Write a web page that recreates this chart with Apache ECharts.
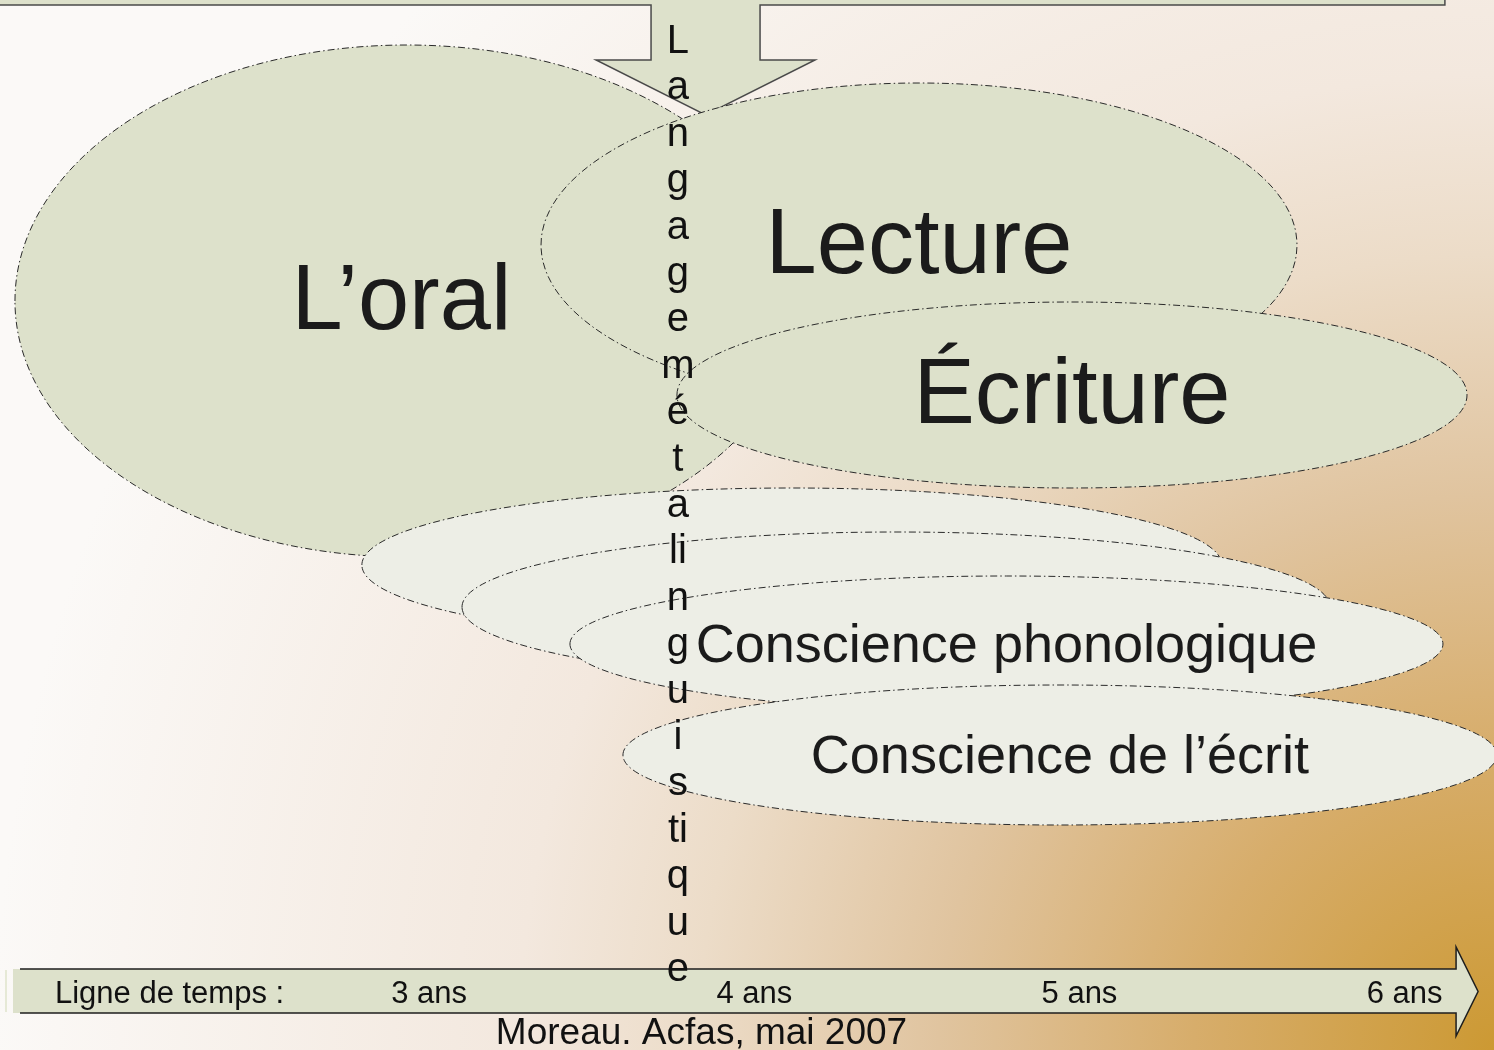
<!DOCTYPE html>
<html>
<head>
<meta charset="utf-8">
<script src="https://cdn.jsdelivr.net/npm/echarts@6/dist/echarts.min.js"></script>
<style>
  html, body { margin: 0; padding: 0; }
  #chart { width: 1494px; height: 1050px; }
</style>
</head>
<body>
<div id="chart"></div>
<script>
// x = age in years, y = row units (top to bottom)
const domains = ['L’oral', 'Lecture', 'Écriture', '', '', 'Conscience phonologique', 'Conscience de l’écrit'];
const domainGroup = ['main', 'main', 'main', 'aware', 'aware', 'aware', 'aware'];
const startAge = [1.726, 3.344, 3.762, 2.793, 3.101, 3.433, 3.596];
const endAge = [4.137, 5.669, 6.192, 5.438, 5.771, 6.118, 6.284];
const rowMid = [3.01, 2.45, 3.95, 5.65, 6.07, 6.44, 7.55];
const rowHalf = [2.56, 1.62, 0.93, 0.77, 0.75, 0.68, 0.70];
const labelAgeShift = [-0.017, 0, 0, 0, 0, 0, 0];

const metaLetters = ['L', 'a', 'n', 'g', 'a', 'g', 'e', 'm', 'é', 't', 'a', 'li', 'n', 'g', 'u', 'i', 's', 'ti', 'q', 'u', 'e'];
const metaAge = 3.765;
const metaRow = 5.06;

const feedAge = 3.85;              // arrow from the top banner
const bannerSpan = [1.68, 6.124];
const feedRows = [0.05, 0.60, 1.15]; // banner bottom, shoulder, tip

const timeSpan = [1.72, 6.226];
const timeRow = 9.91;
const timeLabels = ['Ligne de temps :', '3 ans', '4 ans', '5 ans', '6 ans'];
const timeAges = [1.849, 3, 4, 5, 6];

const caption = 'Moreau. Acfas, mai 2007';

const FONT = '"Liberation Sans", Arial, sans-serif';
const INK = '#1b1b1b';
const fills = { main: '#dde1cb', aware: '#edeee6' };
const fontSizes = { main: 92, aware: 54 };
const dash = [7, 3, 1.5, 3];
const TEXT_DY = 3;

const chart = echarts.init(document.getElementById('chart'));

function renderFeed(params, api) {
  const cx = api.coord([api.value(0), 0])[0];
  const bottom = api.coord([0, api.value(1)])[1];
  const shoulder = api.coord([0, api.value(2)])[1];
  const tip = api.coord([0, api.value(3)])[1];
  const left = api.coord([bannerSpan[0], 0])[0] - 2;
  const right = api.coord([bannerSpan[1], 0])[0];
  return {
    type: 'polygon',
    shape: { points: [
      [left, -60], [right, -60], [right, bottom], [cx + 54.5, bottom], [cx + 54.5, shoulder],
      [cx + 109.5, shoulder], [cx, tip], [cx - 109.5, shoulder], [cx - 54.5, shoulder],
      [cx - 54.5, bottom], [left, bottom]
    ] },
    style: { fill: fills.main, stroke: '#4a4a4a', lineWidth: 1.5 }
  };
}

function renderDomain(params, api) {
  const i = params.dataIndex;
  const s = api.value(0), e = api.value(1), mid = api.value(2), half = api.value(3);
  const c = api.coord([(s + e) / 2, mid]);
  const lc = api.coord([(s + e) / 2 + labelAgeShift[i], mid]);
  const rx = api.size([e - s, 0])[0] / 2;
  const ry = api.size([0, half * 2])[1] / 2;
  const g = domainGroup[i];
  return {
    type: 'group',
    children: [
      { type: 'ellipse', shape: { cx: c[0], cy: c[1], rx: rx, ry: ry },
        style: { fill: fills[g], stroke: '#2a2a2a', lineWidth: 1, lineDash: dash } },
      { type: 'text', x: lc[0], y: lc[1] + TEXT_DY,
        style: { text: domains[i], fontSize: fontSizes[g], fontFamily: FONT,
          fill: INK, align: 'center', verticalAlign: 'middle' } }
    ]
  };
}

function renderTimeline(params, api) {
  const x0 = api.coord([api.value(0), 0])[0];
  const tipX = api.coord([api.value(1), 0])[0];
  const y = api.coord([0, api.value(2)])[1];
  const hb = tipX - 22;
  const top = y - 22, bot = y + 22;
  return {
    type: 'group',
    children: [
      { type: 'rect', shape: { x: x0 - 8, y: top + 1, width: 2, height: 42 }, style: { fill: '#e6e9d6' } },
      { type: 'polygon', shape: { points: [[x0, top], [hb, top], [hb, y - 44], [tipX, y + 0.5], [hb, y + 45], [hb, bot], [x0, bot]] },
        style: { fill: fills.main } },
      { type: 'polyline', shape: { points: [[x0 + 7, top], [hb, top], [hb, y - 44], [tipX, y + 0.5], [hb, y + 45], [hb, bot], [x0 + 7, bot]] },
        style: { fill: null, stroke: '#1e1e1e', lineWidth: 1.5 } }
    ]
  };
}

function renderTimeLabel(params, api) {
  const p = api.coord([api.value(0), api.value(1)]);
  return {
    type: 'text', x: p[0], y: p[1] + TEXT_DY,
    style: { text: timeLabels[params.dataIndex], fontSize: 31, fontFamily: FONT, fill: '#111',
      align: params.dataIndex === 0 ? 'left' : 'center', verticalAlign: 'middle' }
  };
}

function renderMeta(params, api) {
  const p = api.coord([api.value(0), api.value(1)]);
  return {
    type: 'text', x: p[0], y: p[1],
    style: { text: metaLetters.join('\n'), fontSize: 40, lineHeight: 46.4, fontFamily: FONT,
      fill: '#111', align: 'center', verticalAlign: 'middle' }
  };
}

chart.setOption({
  animation: false,
  backgroundColor: new echarts.graphic.RadialGradient(1, 1, 1.4286, [
    { offset: 0, color: '#cc9933' },
    { offset: 0.2, color: '#d7ad6b' },
    { offset: 0.37, color: '#e0c49f' },
    { offset: 0.53, color: '#ecdcc8' },
    { offset: 0.65, color: '#f3e8de' },
    { offset: 1, color: '#fbf9f7' }
  ]),
  grid: { left: 0, right: 0, top: 0, bottom: 0 },
  xAxis: { type: 'value', min: 1.68, max: 6.275, show: false },
  yAxis: { type: 'value', min: 0, max: 10.5, inverse: true, show: false },
  graphic: [{
    type: 'text', x: 701.5, y: 1034,
    style: { text: caption, fontSize: 37, fontFamily: FONT, fill: '#111', align: 'center', verticalAlign: 'middle' }
  }],
  series: [
    { type: 'custom', silent: true, renderItem: renderFeed, data: [[feedAge].concat(feedRows)] },
    { type: 'custom', silent: true, renderItem: renderDomain,
      data: domains.map((d, i) => [startAge[i], endAge[i], rowMid[i], rowHalf[i]]) },
    { type: 'custom', silent: true, renderItem: renderTimeline, data: [[timeSpan[0], timeSpan[1], timeRow]] },
    { type: 'custom', silent: true, renderItem: renderTimeLabel, data: timeAges.map(a => [a, timeRow]) },
    { type: 'custom', silent: true, renderItem: renderMeta, data: [[metaAge, metaRow]] }
  ]
});
</script>
</body>
</html>
